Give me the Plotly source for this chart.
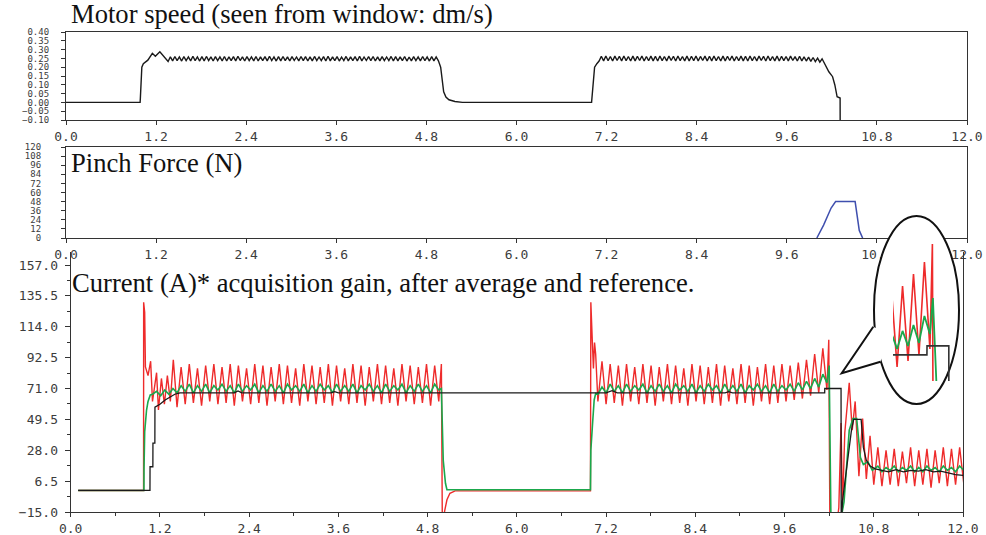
import plotly.graph_objects as go

# ---------------- tick definitions ----------------
x_tick_vals = [0.0, 1.2, 2.4, 3.6, 4.8, 6.0, 7.2, 8.4, 9.6, 10.8, 12.0]
x_tick_text = ["0.0", "1.2", "2.4", "3.6", "4.8", "6.0", "7.2", "8.4", "9.6", "10.8", "12.0"]
x_minor_vals = [0.6, 1.8, 3.0, 4.2, 5.4, 6.6, 7.8, 9.0, 10.2, 11.4]
speed_tick_vals = [-0.10, -0.05, 0.00, 0.05, 0.10, 0.15, 0.20, 0.25, 0.30, 0.35, 0.40]
force_tick_vals = [0, 12, 24, 36, 48, 60, 72, 84, 96, 108, 120]
current_tick_vals = [-15.0, 6.5, 28.0, 49.5, 71.0, 92.5, 114.0, 135.5, 157.0]
current_minor_vals = [-4.25, 17.25, 38.75, 60.25, 81.75, 103.25, 124.75, 146.25]

titles = ["Motor speed (seen from window: dm/s)",
          "Pinch Force (N)",
          "Current (A)* acquisition gain, after average and reference."]

# ---------------- motor speed (dm/s) ----------------
SPEED_DT = 0.03
speed_t_start = [0.0, 0.987, 0.99, 1.0, 1.01, 1.03, 1.06, 1.09, 1.15, 1.19, 1.25, 1.32, 1.36]
speed_v_start = [0.0, 0.0, 0.02, 0.13, 0.20, 0.22, 0.23, 0.24, 0.279, 0.262, 0.288, 0.255, 0.232]
speed_osc1_t0 = 1.39
speed_osc1 = [
    0.259, 0.236, 0.261, 0.237, 0.258, 0.235, 0.260, 0.238, 0.259, 0.236,
    0.262, 0.237, 0.258, 0.235, 0.260, 0.236, 0.261, 0.238, 0.259, 0.235,
    0.260, 0.237, 0.258, 0.236, 0.261, 0.235, 0.259, 0.237, 0.260, 0.236,
    0.262, 0.238, 0.259, 0.235, 0.260, 0.237, 0.258, 0.236, 0.261, 0.235,
    0.259, 0.237, 0.260, 0.236, 0.262, 0.238, 0.258, 0.235, 0.260, 0.236,
    0.261, 0.237, 0.259, 0.235, 0.260, 0.238, 0.258, 0.236, 0.261, 0.237,
    0.260, 0.235, 0.259, 0.236, 0.261, 0.238, 0.258, 0.237, 0.260, 0.235,
    0.262, 0.236, 0.259, 0.237, 0.260, 0.235, 0.258, 0.238, 0.261, 0.236,
    0.259, 0.237, 0.260, 0.235, 0.262, 0.236, 0.258, 0.238, 0.260, 0.237,
    0.261, 0.235, 0.259, 0.236, 0.260, 0.237, 0.258, 0.238, 0.261, 0.235,
    0.260, 0.236, 0.259, 0.237, 0.261, 0.235, 0.258, 0.236, 0.260, 0.238,
    0.259, 0.236, 0.261, 0.237, 0.258, 0.235, 0.260, 0.236, 0.258, 0.236,
]
speed_t_mid = [4.99, 5.01, 5.03, 5.06, 5.10, 5.18, 5.28, 7.00, 7.01, 7.02, 7.04, 7.07, 7.10]
speed_v_mid = [0.20, 0.12, 0.06, 0.03, 0.015, 0.005, 0.0, 0.0, 0.05, 0.13, 0.20, 0.22, 0.235]
speed_osc2_t0 = 7.13
speed_osc2 = [
    0.262, 0.236, 0.264, 0.237, 0.261, 0.235, 0.263, 0.238, 0.262, 0.236,
    0.264, 0.237, 0.261, 0.235, 0.263, 0.236, 0.262, 0.238, 0.264, 0.235,
    0.261, 0.237, 0.263, 0.236, 0.262, 0.235, 0.264, 0.237, 0.261, 0.236,
    0.263, 0.238, 0.262, 0.235, 0.264, 0.237, 0.261, 0.236, 0.263, 0.235,
    0.262, 0.237, 0.264, 0.236, 0.261, 0.238, 0.263, 0.235, 0.262, 0.236,
    0.264, 0.237, 0.261, 0.235, 0.263, 0.236, 0.262, 0.238, 0.264, 0.235,
    0.261, 0.237, 0.263, 0.236, 0.262, 0.235, 0.264, 0.237, 0.261, 0.236,
    0.263, 0.238, 0.262, 0.235, 0.264, 0.237, 0.261, 0.236, 0.263, 0.235,
    0.262, 0.237, 0.261, 0.236, 0.263, 0.238, 0.260, 0.235, 0.262, 0.236,
    0.259, 0.235, 0.257, 0.233, 0.255, 0.232, 0.252, 0.229, 0.248, 0.226,
]
speed_t_end = [10.12, 10.16, 10.21, 10.24, 10.27, 10.31, 10.311]
speed_v_end = [0.203, 0.174, 0.146, 0.099, 0.032, 0.025, -0.15]

# ---------------- pinch force (N) ----------------
force_t = [10.00, 10.09, 10.19, 10.25, 10.51, 10.565, 10.61]
force_v = [0, 17, 39.5, 48, 48, 10, 0]

# ---------------- currents (A) ----------------
CUR_DT = 0.055
# red: measured current
red_t_start = [0.10, 0.98, 0.981, 0.995, 1.005, 1.02, 1.04, 1.075, 1.10, 1.155, 1.18, 1.22, 1.26, 1.30, 1.34, 1.38]
red_v_start = [0.0, 0.0, 131, 124, 86, 84, 80, 90, 62, 82, 56, 78, 60, 80, 62, 91]
red_osc1_t0 = 1.43
red_osc1 = [
    58, 86, 60, 88, 61, 85, 59, 87, 62, 88,
    60, 86, 61, 88, 59, 87, 62, 85, 60, 88,
    61, 87, 59, 86, 62, 88, 60, 87, 61, 85,
    59, 88, 62, 87, 60, 86, 61, 88, 59, 87,
    62, 85, 60, 88, 61, 87, 59, 86, 62, 88,
    60, 87, 61, 85, 59, 88, 62, 87, 60, 86,
    61, 88, 59, 87, 62,
]
red_t_mid = [4.985, 4.998, 5.03, 5.06, 5.10, 5.17, 6.99, 6.995, 7.015, 7.03, 7.045, 7.06]
red_v_mid = [88, -25, -14, -6.5, -2, -0.3, -0.3, 131, 104, 85, 103, 95]
red_osc2_t0 = 7.09
red_osc2 = [
    62, 90, 60, 88, 61, 87, 59, 88, 62, 86,
    60, 88, 61, 87, 59, 86, 62, 88, 60, 87,
    61, 85, 59, 88, 62, 87, 60, 86, 61, 88,
    59, 87, 62, 85, 60, 88, 61, 87, 59, 86,
    62, 88, 60, 87, 61, 88, 62, 87, 63, 89,
    64, 91, 66, 95, 68, 99, 70,
]
red_t_end = [10.195, 10.21, 10.30, 10.33, 10.36, 10.38, 10.41, 10.47, 10.51, 10.55, 10.60, 10.65, 10.70, 10.75, 10.80]
red_v_end = [105, -25, -25, -12, 47, -12, 40, 75, 42, 62, 10, 50, 8, 38, 4]
red_osc3_t0 = 10.855
red_osc3 = [30, 3, 28, 4, 29, 3, 27, 5, 30, 3, 28, 4, 29, 2, 28, 5, 30, 3, 29, 4, 30, 5]

# green: averaged current
green_t_start = [0.10, 0.985, 0.986, 0.995, 1.02, 1.04, 1.07]
green_v_start = [0.0, 0.0, 15, 41, 56, 62, 66.5]
green_osc1_t0 = 1.10
green_osc1 = [
    67, 69, 66, 70, 67, 71, 68, 73, 69, 74,
    68, 73, 69, 74, 68, 73, 70, 74, 69, 73,
    68, 74, 69, 73, 70, 74, 68, 73, 69, 74,
    69, 73, 68, 74, 70, 73, 69, 74, 68, 73,
    69, 74, 70, 73, 68, 74, 69, 73, 69, 74,
    68, 73, 70, 74, 69, 73, 68, 74, 69, 73,
    70, 74, 68, 73, 69, 74, 69, 73, 68, 74, 70,
]
green_t_mid = [4.985, 4.995, 5.01, 5.04, 5.06, 6.99, 6.995, 7.02, 7.04, 7.06]
green_v_mid = [71, 49, 21, 5, 0.5, 0.5, 28, 48, 63, 67.5]
green_osc2_t0 = 7.09
green_osc2 = [
    67, 72, 68, 74, 69, 73, 68, 74, 69, 73,
    70, 74, 68, 73, 69, 74, 69, 73, 68, 74,
    70, 73, 69, 74, 68, 73, 69, 74, 70, 73,
    68, 74, 69, 73, 69, 74, 68, 73, 70, 74,
    69, 73, 68, 74, 69, 73, 70, 74, 69, 75,
    70, 76, 71, 78, 72, 81, 75,
]
green_t_end = [10.20, 10.225, 10.34, 10.40, 10.47, 10.52, 10.57, 10.62, 10.66, 10.72, 10.78]
green_v_end = [87, -25, -25, -8, 42, 50, 50, 23, 18, 20, 14]
green_osc3_t0 = 10.855
green_osc3 = [17, 13, 16, 14, 17, 13, 16, 14, 17, 13, 16, 13, 17, 14, 16, 13, 17, 14, 16, 13, 17, 14]

# black: reference current
black_t = [0.10, 1.066, 1.067, 1.105, 1.106, 1.132, 1.133, 1.20, 1.27, 1.33, 1.40, 1.47,
           2.20, 2.25, 2.30, 3.50, 3.55, 3.60, 7.20, 7.28, 7.35, 8.80, 8.85, 8.90,
           10.14, 10.141, 10.36, 10.362, 10.38, 10.50, 10.53, 10.63, 10.66, 10.70, 10.75, 10.82,
           10.90, 11.00, 11.10, 11.20, 11.30, 11.40, 11.50, 11.60, 11.70, 11.80, 11.90, 12.00]
black_v = [0, 0, 16.5, 16.5, 33, 33, 58, 60, 63, 65, 67, 68,
           68, 69.3, 68, 68, 68.8, 68, 68, 69.5, 68, 68, 68.8, 68,
           68, 71, 71, -25, -7, 42, 49.5, 49.5, 30, 21, 17, 15,
           14, 13, 14.5, 13, 14, 13.5, 14.5, 13, 13.5, 12, 11, 10.5]


def sampled(t0, dt, values):
    return [t0 + i * dt for i in range(len(values))]


speed_t = (speed_t_start + sampled(speed_osc1_t0, SPEED_DT, speed_osc1) + speed_t_mid
           + sampled(speed_osc2_t0, SPEED_DT, speed_osc2) + speed_t_end)
speed_v = speed_v_start + speed_osc1 + speed_v_mid + speed_osc2 + speed_v_end

red_t = (red_t_start + sampled(red_osc1_t0, CUR_DT, red_osc1) + red_t_mid
         + sampled(red_osc2_t0, CUR_DT, red_osc2) + red_t_end + sampled(red_osc3_t0, CUR_DT, red_osc3))
red_v = red_v_start + red_osc1 + red_v_mid + red_osc2 + red_v_end + red_osc3

green_t = (green_t_start + sampled(green_osc1_t0, CUR_DT, green_osc1) + green_t_mid
           + sampled(green_osc2_t0, CUR_DT, green_osc2) + green_t_end + sampled(green_osc3_t0, CUR_DT, green_osc3))
green_v = green_v_start + green_osc1 + green_v_mid + green_osc2 + green_v_end + green_osc3

# ---------------- geometry helpers (pixel -> paper) ----------------
W, H = 986, 535


def px(x):
    return x / W


def py(y):
    return 1 - y / H


RED = "#ee2b2b"
GREEN = "#1aa84c"
BLACK = "#1a1a1a"
AXC = "#333333"
TICKFONT = dict(family="DejaVu Sans Mono", size=13, color="#3c3c3c")
SMALLTICKFONT = dict(family="DejaVu Sans Mono", size=9, color="#3c3c3c")
TITLEFONT = dict(family="Liberation Serif", size=26.6, color="#111111")

fig = go.Figure()

fig.add_trace(go.Scatter(x=speed_t, y=speed_v, mode="lines", line=dict(color=BLACK, width=1.4),
                         xaxis="x", yaxis="y"))
fig.add_trace(go.Scatter(x=force_t, y=force_v, mode="lines", line=dict(color="#3f4fae", width=1.5),
                         xaxis="x2", yaxis="y2"))
fig.add_trace(go.Scatter(x=red_t, y=red_v, mode="lines", line=dict(color=RED, width=1.4),
                         xaxis="x3", yaxis="y3"))
fig.add_trace(go.Scatter(x=green_t, y=green_v, mode="lines", line=dict(color=GREEN, width=1.6),
                         xaxis="x3", yaxis="y3"))
fig.add_trace(go.Scatter(x=black_t, y=black_v, mode="lines", line=dict(color=BLACK, width=1.3),
                         xaxis="x3", yaxis="y3"))
# callout container subplot (no data, only hosts the ellipse)
fig.add_trace(go.Scatter(x=[], y=[], mode="lines", xaxis="x4", yaxis="y4"))
# magnified inset inside the callout
fig.add_trace(go.Scatter(x=red_t, y=red_v, mode="lines", line=dict(color=RED, width=1.6),
                         xaxis="x5", yaxis="y5"))
fig.add_trace(go.Scatter(x=green_t, y=green_v, mode="lines", line=dict(color=GREEN, width=1.8),
                         xaxis="x5", yaxis="y5"))
fig.add_trace(go.Scatter(x=black_t, y=black_v, mode="lines", line=dict(color="#333333", width=1.6),
                         xaxis="x5", yaxis="y5"))


def xax(domain, anchor, mirror, minor=False):
    d = dict(domain=domain, anchor=anchor, range=[0, 12], tickmode="array",
             tickvals=x_tick_vals, ticktext=x_tick_text, ticks="outside", ticklen=4,
             tickcolor=AXC, showline=True, linecolor=AXC, linewidth=1.2, mirror=mirror,
             showgrid=False, zeroline=False, tickfont=TICKFONT, automargin=False)
    if minor:
        d["minor"] = dict(tickmode="array", tickvals=x_minor_vals, ticks="outside", ticklen=3,
                          tickcolor=AXC, showgrid=False)
    return d


fig.update_layout(
    width=W, height=H,
    margin=dict(l=0, r=0, t=0, b=0),
    paper_bgcolor="white", plot_bgcolor="rgba(0,0,0,0)",
    showlegend=False, hovermode=False,
    xaxis=xax([px(66), px(967)], "y", True),
    yaxis=dict(domain=[py(120), py(32)], anchor="x", range=[-0.10, 0.40], tickmode="array",
               tickvals=speed_tick_vals, tickformat=".2f", ticks="outside", ticklen=4, tickcolor=AXC,
               showline=True, linecolor=AXC, linewidth=1.2, mirror=True, showgrid=False,
               zeroline=False, tickfont=SMALLTICKFONT, ticklabelstandoff=10, automargin=False),
    xaxis2=xax([px(66), px(967)], "y2", True),
    yaxis2=dict(domain=[py(238), py(147)], anchor="x2", range=[0, 120], tickmode="array",
                tickvals=force_tick_vals, ticks="outside", ticklen=4, tickcolor=AXC,
                showline=True, linecolor=AXC, linewidth=1.2, mirror=True, showgrid=False,
                zeroline=False, tickfont=SMALLTICKFONT, ticklabelstandoff=18, automargin=False),
    xaxis3=xax([px(70.7), px(963)], "y3", False, minor=True),
    yaxis3=dict(domain=[py(512), py(252)], anchor="x3", range=[-15, 166.05], tickmode="array",
                tickvals=current_tick_vals, tickformat=".1f", ticks="outside", ticklen=5,
                tickcolor=AXC, showline=True, linecolor=AXC, linewidth=1.2, mirror=True,
                showgrid=False, zeroline=False, tickfont=TICKFONT, ticklabelstandoff=4,
                minor=dict(tickmode="array", tickvals=current_minor_vals, ticks="outside",
                           ticklen=3, tickcolor=AXC, showgrid=False),
                automargin=False),
    xaxis4=dict(domain=[px(872), px(961)], anchor="y4", range=[872, 961], visible=False),
    yaxis4=dict(domain=[py(406), py(214)], anchor="x4", range=[406, 214], visible=False),
    xaxis5=dict(domain=[px(893), px(950)], anchor="y5", range=[9.799, 10.372], visible=False),
    yaxis5=dict(domain=[py(381), py(220)], anchor="x5", range=[59.3, 113], visible=False),
)

# callout ellipse (white filled, drawn in its own subplot above the lower panels)
fig.add_shape(type="circle", xref="x4", yref="y4", x0=874, x1=959, y0=216, y1=404,
              line=dict(color="#111111", width=2), fillcolor="white", layer="below")
# callout tail: white patch to open the ellipse, then the two tail edges
fig.add_shape(type="path", xref="paper", yref="paper",
              path=(f"M {px(873.3)},{py(326.7)} L {px(841.7)},{py(373.3)} L {px(880.5)},{py(361.7)} "
                    f"L {px(885)},{py(345)} L {px(880)},{py(330)} Z"),
              line=dict(width=0), fillcolor="white", layer="above")
fig.add_shape(type="path", xref="paper", yref="paper",
              path=f"M {px(873.3)},{py(326.7)} L {px(841.7)},{py(373.3)} L {px(880.5)},{py(361.7)}",
              line=dict(color="#111111", width=2), layer="above")

title_pos = [(69, 14), (69, 163), (70, 283)]
for text, (tx, ty) in zip(titles, title_pos):
    fig.add_annotation(text=text, x=px(tx), y=py(ty), xref="paper", yref="paper",
                       xanchor="left", yanchor="middle", showarrow=False, font=TITLEFONT)

fig.write_html("out.html", config={"displayModeBar": False},
               post_script="document.body.style.margin='0';document.body.style.overflow='hidden';")
